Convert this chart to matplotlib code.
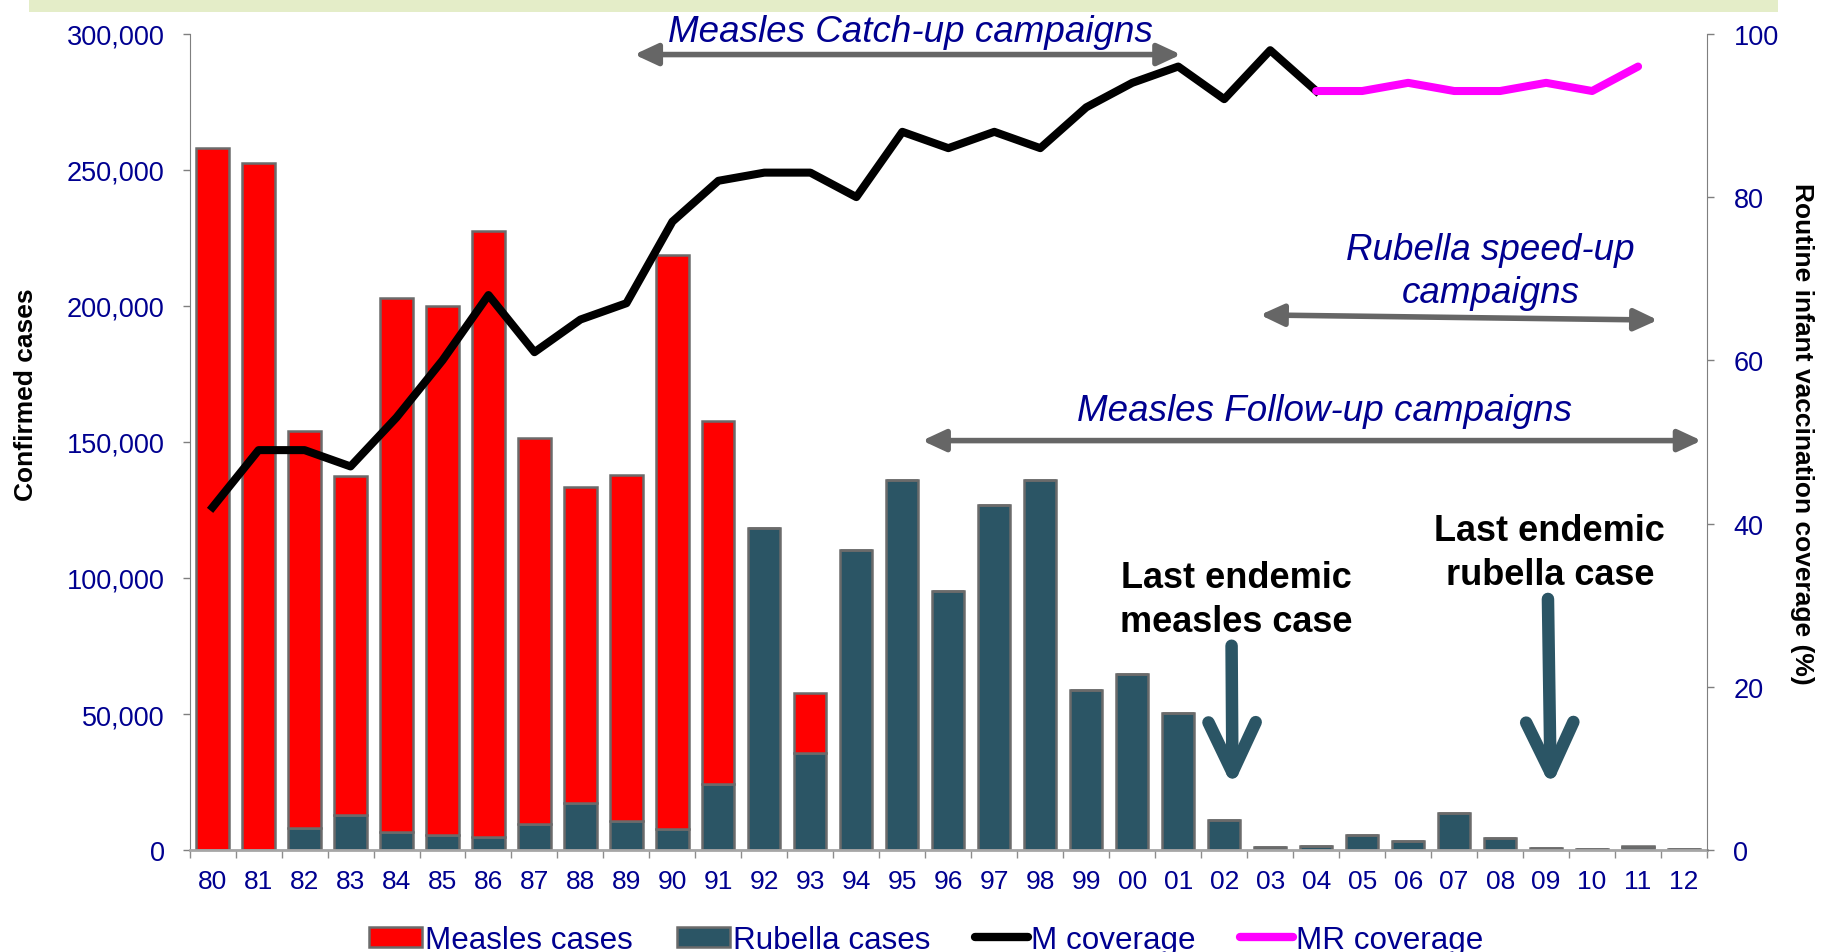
import numpy as np
import matplotlib.pyplot as plt
import matplotlib as mpl
from matplotlib.patches import Rectangle, Patch
from matplotlib.lines import Line2D
from matplotlib.ticker import FuncFormatter

mpl.rcParams["font.family"] = ["Liberation Sans", "DejaVu Sans"]

# ----- data -----
years = ["80", "81", "82", "83", "84", "85", "86", "87", "88", "89", "90", "91",
         "92", "93", "94", "95", "96", "97", "98", "99", "00", "01", "02", "03",
         "04", "05", "06", "07", "08", "09", "10", "11", "12"]

rubella = [0, 0, 8000, 13000, 6500, 5500, 4700, 9400, 17300, 10700, 7700, 24300,
           118200, 35800, 110300, 136100, 95200, 126700, 136100, 58800, 64600, 50400,
           11200, 1000, 1600, 5600, 3300, 13500, 4500, 600, 500, 1100, 500]

measles = [258000, 252500, 145900, 124600, 196300, 194500, 222800, 142000, 116100,
           127100, 211100, 133400, 0, 21800, 0, 0, 0, 0, 0, 0, 0, 0,
           0, 0, 0, 0, 0, 0, 0, 0, 0, 400, 0]

m_years = years[:25]          # 80 .. 04
m_cov = [42, 49, 49, 47, 53, 60, 68, 61, 65, 67, 77, 82, 83, 83, 80, 88, 86, 88,
         86, 91, 94, 96, 92, 98, 93]
mr_years = years[24:32]       # 04 .. 11
mr_cov = [93, 93, 94, 93, 93, 94, 93, 96]

navy = "#000090"
teal = "#2b5565"
edge = "#6b6b6b"
arrow_grey = "#666666"

fig = plt.figure(figsize=(18.23, 9.53), dpi=100)
ax = fig.add_axes([0.104, 0.107, 0.8324, 0.8564])

# top band
fig.patches.append(Rectangle((29 / 1823, 1 - 13 / 953), (1778 - 29) / 1823, 13 / 953,
                             transform=fig.transFigure, facecolor="#e4edc8",
                             edgecolor="none", zorder=0))

x = np.arange(len(years))
ax.bar(x, rubella, width=0.7, color=teal, edgecolor=edge, linewidth=1.8, zorder=2)
ax.bar(x, measles, width=0.7, bottom=rubella, color="#ff0000", edgecolor=edge,
       linewidth=1.8, zorder=2)

ax.set_xlim(-0.5, len(years) - 0.5)
ax.set_ylim(0, 300000)
ax.set_yticks(np.arange(0, 300001, 50000))
ax.yaxis.set_major_formatter(FuncFormatter(lambda v, p: f"{int(v):,}"))
ax.set_xticks(x)
ax.set_xticklabels(years)
ax.set_xticks(np.arange(-0.5, len(years), 1), minor=True)
ax.tick_params(axis="x", which="major", length=0, pad=14, labelsize=19, labelcolor=navy)
ax.tick_params(axis="x", which="minor", length=6, width=1, color="#8c8c8c", direction="out")
ax.tick_params(axis="y", length=5, width=1, color="#7f7f7f", pad=13,
               labelsize=19.5, labelcolor=navy)

ax.spines["top"].set_visible(False)
ax.spines["left"].set_color("#7f7f7f")
ax.spines["right"].set_visible(False)
ax.spines["bottom"].set_color("#a6a6a6")
ax.spines["bottom"].set_linewidth(2)

# coverage on right axis
ax2 = ax.twinx()
ax2.plot([years.index(y) for y in m_years], m_cov, color="black", lw=5.8, zorder=3)
ax2.plot([years.index(y) for y in mr_years], mr_cov, color="#ff00ff", lw=5.8,
         solid_capstyle="round", zorder=3)
ax2.set_ylim(0, 100)
ax2.set_yticks(np.arange(0, 101, 20))
ax2.tick_params(axis="y", length=5, width=1, color="#7f7f7f", pad=14,
                labelsize=19.5, labelcolor=navy)
for s in ["top", "left", "bottom"]:
    ax2.spines[s].set_visible(False)
ax2.spines["right"].set_color("#7f7f7f")

fig.text(26 / 1823, 1 - 395 / 953, "Confirmed cases", rotation=90, fontsize=19,
         fontweight="bold", ha="center", va="center")
fig.text(1802 / 1823, 1 - 434 / 953, "Routine infant vaccination coverage (%)",
         rotation=270, fontsize=19, fontweight="bold", ha="center", va="center")

# campaign annotations
ital = dict(color=navy, fontsize=26.5, style="italic", ha="center", va="center")
ax.text(15.17, 301000, "Measles Catch-up campaigns", clip_on=False, **ital)
ax.text(27.79, 213000, "Rubella speed-up\ncampaigns", linespacing=1.3, **ital)
ax.text(24.19, 161500, "Measles Follow-up campaigns", **ital)

grey_arrow = dict(arrowstyle="<|-|>,head_length=1.4,head_width=0.65", color=arrow_grey,
                  lw=4, mutation_scale=10, shrinkA=0, shrinkB=0)
ax.annotate("", xy=(21.06, 292400), xytext=(9.17, 292400), arrowprops=grey_arrow,
            annotation_clip=False)
ax.annotate("", xy=(31.43, 194800), xytext=(22.78, 196700), arrowprops=grey_arrow)
ax.annotate("", xy=(32.38, 150500), xytext=(15.43, 150500), arrowprops=grey_arrow,
            annotation_clip=False)

# last endemic case markers
bold = dict(color="black", fontsize=26, fontweight="bold", ha="center", va="center",
            linespacing=1.35)
ax.text(22.26, 92000, "Last endemic\nmeasles case", **bold)
ax.text(29.08, 109300, "Last endemic\nrubella case", **bold)

down_arrow = dict(arrowstyle="->,head_length=1.8,head_width=0.85", color=teal, lw=9,
                  mutation_scale=20, shrinkA=0, shrinkB=0, capstyle="round",
                  joinstyle="round")
ax.annotate("", xy=(22.18, 23200), xytext=(22.16, 75100), arrowprops=down_arrow)
ax.annotate("", xy=(29.10, 23200), xytext=(29.04, 92300), arrowprops=down_arrow)

# legend
handles = [Patch(facecolor="#ff0000", edgecolor=edge, linewidth=1.8, label="Measles cases"),
           Patch(facecolor=teal, edgecolor=edge, linewidth=1.8, label="Rubella cases"),
           Line2D([0], [0], color="black", lw=6, solid_capstyle="round", label="M coverage"),
           Line2D([0], [0], color="#ff00ff", lw=6, solid_capstyle="round", label="MR coverage")]
leg = fig.legend(handles=handles, loc="center", bbox_to_anchor=(0.508, 0.0126), ncol=4,
                 frameon=False, fontsize=22.6, handlelength=1.7, handleheight=0.6,
                 handletextpad=0.1, columnspacing=1.4, borderaxespad=0)
for t in leg.get_texts():
    t.set_color(navy)

fig.savefig("out.png", dpi=100)
